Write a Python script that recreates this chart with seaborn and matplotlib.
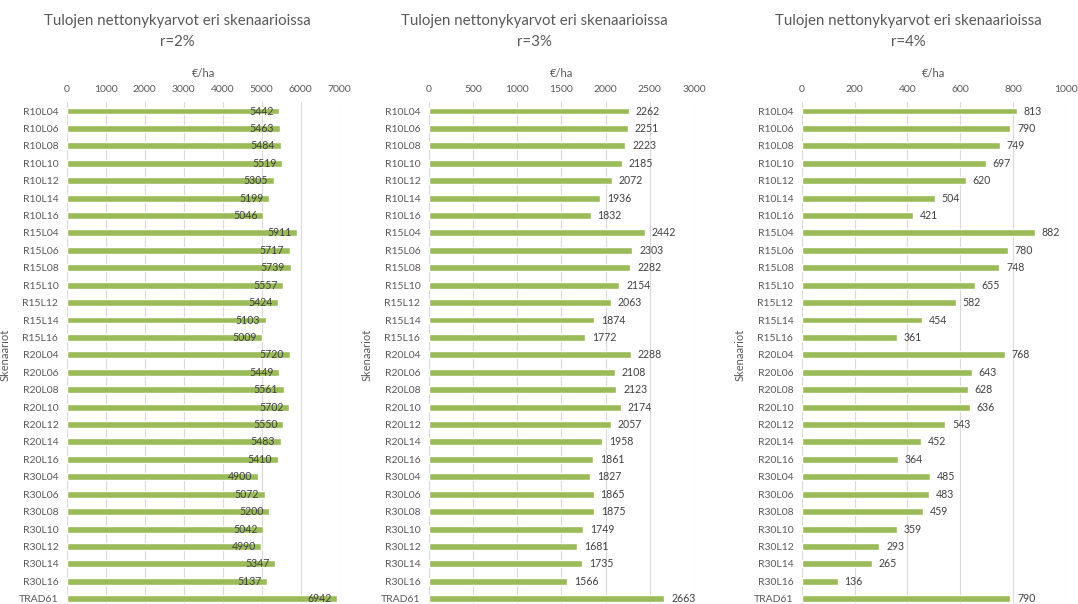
import matplotlib
matplotlib.use("Agg")
import matplotlib.pyplot as plt
import seaborn as sns
import pandas as pd

scenarios = [
    "R10L04", "R10L06", "R10L08", "R10L10", "R10L12", "R10L14", "R10L16",
    "R15L04", "R15L06", "R15L08", "R15L10", "R15L12", "R15L14", "R15L16",
    "R20L04", "R20L06", "R20L08", "R20L10", "R20L12", "R20L14", "R20L16",
    "R30L04", "R30L06", "R30L08", "R30L10", "R30L12", "R30L14", "R30L16",
    "TRAD61",
]
npv_r2 = [5442, 5463, 5484, 5519, 5305, 5199, 5046,
          5911, 5717, 5739, 5557, 5424, 5103, 5009,
          5720, 5449, 5561, 5702, 5550, 5483, 5410,
          4900, 5072, 5200, 5042, 4990, 5347, 5137,
          6942]
npv_r3 = [2262, 2251, 2223, 2185, 2072, 1936, 1832,
          2442, 2303, 2282, 2154, 2063, 1874, 1772,
          2288, 2108, 2123, 2174, 2057, 1958, 1861,
          1827, 1865, 1875, 1749, 1681, 1735, 1566,
          2663]
npv_r4 = [813, 790, 749, 697, 620, 504, 421,
          882, 780, 748, 655, 582, 454, 361,
          768, 643, 628, 636, 543, 452, 364,
          485, 483, 459, 359, 293, 265, 136,
          790]
rates = ["r=2%", "r=3%", "r=4%"]
x_ticks = [list(range(0, 7001, 1000)), list(range(0, 3001, 500)), list(range(0, 1001, 200))]

sns.set_theme(style="white")
plt.rcParams["font.family"] = ["Lato", "DejaVu Sans"]

W, H = 1078, 604
fig = plt.figure(figsize=(W / 100, H / 100), dpi=100)

# panel geometry in pixels: left, right, and the title centre of each chart block
panels_px = [(66.7, 339.7), (428.7, 693.9), (801.7, 1066.0)]
title_cx = [177.5, 534.0, 908.0]
top_px, bottom_px = 102.3, 607.4

bar_color = "#9bbb59"
grid_color = "#d9d9d9"
text_gray = "#595959"
label_dark = "#404040"

series = [npv_r2, npv_r3, npv_r4]
for i, (vals, rate, ticks, (l, r), tcx) in enumerate(
        zip(series, rates, x_ticks, panels_px, title_cx)):
    ax = fig.add_axes([l / W, 1 - bottom_px / H, (r - l) / W, (bottom_px - top_px) / H])
    df = pd.DataFrame({"Skenaario": scenarios, "Arvo": vals})
    sns.barplot(data=df, x="Arvo", y="Skenaario", ax=ax, color=bar_color,
                saturation=1, width=0.4, orient="h")
    ax.set_xlim(ticks[0], ticks[-1])
    ax.set_xticks(ticks)
    ax.xaxis.tick_top()
    ax.xaxis.set_label_position("top")
    ax.set_xlabel("€/ha", color=text_gray, fontsize=8, labelpad=6)
    ax.set_ylabel("Skenaariot", color=text_gray, fontsize=8, labelpad=6)
    ax.tick_params(axis="both", length=0, colors=text_gray, labelsize=7.5, pad=6)
    ax.grid(axis="x", color=grid_color, linewidth=0.8)
    ax.set_axisbelow(True)
    for s in ax.spines.values():
        s.set_visible(False)

    if i == 0:
        labels = ax.bar_label(ax.containers[0], fmt="%d", padding=-4,
                              fontsize=7.6, color=label_dark)
        for t in labels:
            t.set_ha("right")
    else:
        ax.bar_label(ax.containers[0], fmt="%d", padding=5,
                     fontsize=7.6, color=label_dark)

    cx = tcx / W
    fig.text(cx, 1 - 21 / H, "Tulojen nettonykyarvot eri skenaarioissa",
             ha="center", va="center", fontsize=10.8, color=text_gray)
    fig.text(cx, 1 - 42 / H, rate, ha="center", va="center",
             fontsize=10.8, color=text_gray)

fig.savefig("out.png", dpi=100)
